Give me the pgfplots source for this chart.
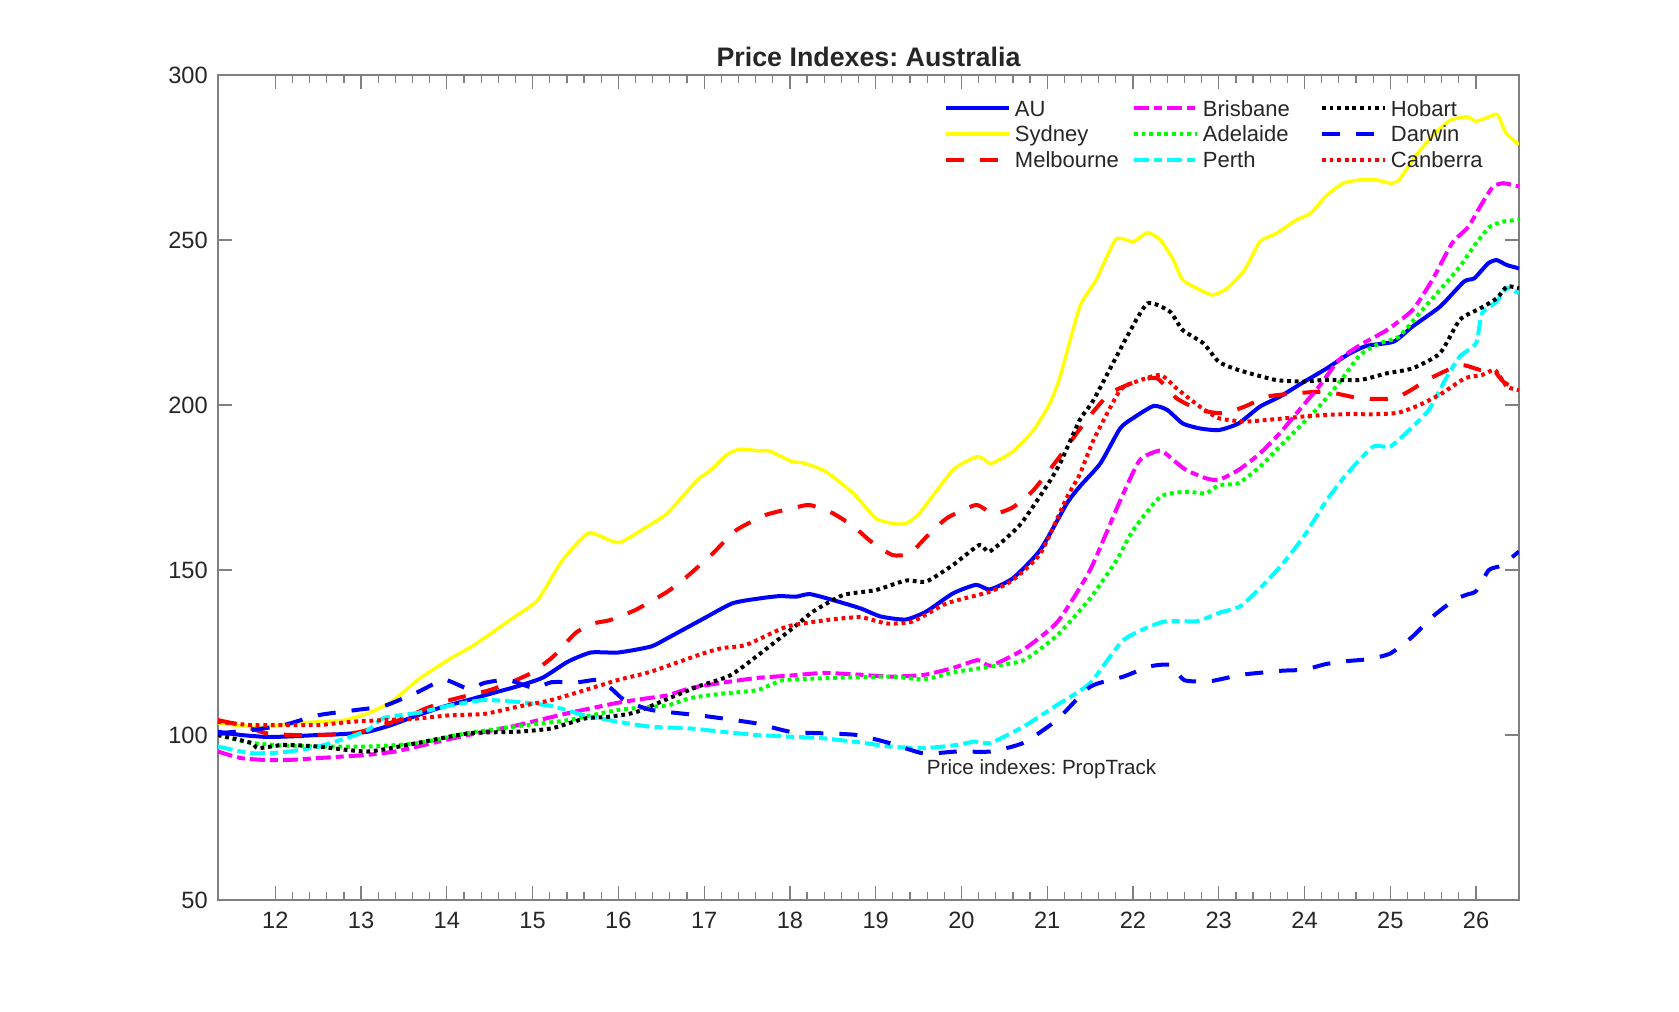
\documentclass[border=0pt]{standalone}
\usepackage{pgfplots}
\pgfplotsset{compat=1.18}
\usepackage{fontspec}
\setmainfont{Liberation Sans}
\frenchspacing
\definecolor{axgray}{HTML}{808080}
\definecolor{txtgray}{HTML}{262626}
\definecolor{cBlue}{rgb}{0,0,1}
\definecolor{cYellow}{rgb}{1,1,0}
\definecolor{cRed}{rgb}{1,0,0}
\definecolor{cMag}{rgb}{1,0,1}
\definecolor{cGreen}{rgb}{0,1,0}
\definecolor{cCyan}{rgb}{0,1,1}
\definecolor{cBlack}{rgb}{0,0,0}
\newcommand{\lgd}[1]{\makebox[60.65pt][l]{\hspace*{2.15pt}#1}}
\begin{document}
\begin{tikzpicture}
\path (0,0) rectangle (839.5pt,505.5pt);
\begin{axis}[
  scale only axis, width=650.5pt, height=412.5pt,
  at={(109pt,55.5pt)}, anchor=south west,
  xmin=11.332, xmax=26.501, ymin=50, ymax=300,
  xtick={12,13,...,26}, ytick={50,100,...,300},
  minor x tick num=4,
  tick align=inside,
  major tick length=7pt, minor tick length=4pt,
  axis line style={draw=axgray, line width=0.6pt},
  tick style={draw=axgray, line width=0.6pt},
  /pgf/number format/assume math mode=true,
  tick label style={font=\fontsize{11.8}{14}\selectfont, text=txtgray},
  yticklabel style={xshift=-1.6pt},
  xticklabel style={yshift=-2.5pt},
  title={Price Indexes: Australia},
  every axis title/.style={font=\bfseries\fontsize{13.4}{16}\selectfont, text=txtgray, at={(0.5,1)}, anchor=base, yshift=4.2pt, inner sep=0pt},
  legend style={at={(0.5580,0.9730)}, anchor=north west, draw=none, fill=none, inner sep=0pt, outer sep=0pt, row sep=1.9pt, column sep=0pt, font=\fontsize{11}{13}\selectfont, text=txtgray, nodes={inner sep=0pt, text height=9.4pt, text depth=1.6pt}, cells={anchor=center}},
  legend columns=3, transpose legend,
  legend image code/.code={\draw[#1] (0pt,0pt) -- (31.35pt,0pt);},
  every axis plot/.append style={smooth, tension=0.35, line cap=butt, line join=round},
]
% AU
\addplot[cBlue, line width=2pt] coordinates {
(11.33,101)(11.6,100)(11.91,99.4)(12.2,99.6)(12.5,100)(12.8,100.3)(13.08,101)(13.35,103)(13.66,106)(13.95,108.5)(14.25,110.6)(14.55,112.8)(14.83,114.8)(15.12,117.4)(15.41,122.2)(15.68,125)(16.0,125)(16.38,126.8)(16.57,129.3)(16.96,134.8)(17.33,139.9)(17.65,141.4)(17.88,142.1)(18.07,141.9)(18.23,142.7)(18.5,140.9)(18.82,138.4)(19.06,135.9)(19.35,135)(19.59,137.4)(19.9,142.9)(20.17,145.5)(20.33,144.1)(20.6,147.5)(20.92,156.1)(21.23,170.2)(21.38,175.3)(21.62,182.3)(21.85,192.9)(22.0,196)(22.24,199.7)(22.4,198.5)(22.58,194.4)(22.78,192.9)(23.0,192.4)(23.23,194.4)(23.48,199.5)(23.71,202.5)(24.0,207.1)(24.26,211.1)(24.5,215.2)(24.72,217.9)(25.04,219.2)(25.26,223.8)(25.58,229.8)(25.86,237.4)(25.98,238.4)(26.14,242.9)(26.24,243.9)(26.36,242.4)(26.5,241.4)};
\addlegendentry{\lgd{AU}}
% Sydney
\addplot[cYellow, line width=1.7pt] coordinates {
(11.33,103.7)(11.6,102.8)(11.9,102.5)(12.2,103.5)(12.5,104)(12.8,104.5)(13.08,106.6)(13.35,110)(13.66,116.7)(13.85,120)(14.05,123.3)(14.3,127)(14.52,130.9)(14.8,136)(15.06,140.9)(15.32,152)(15.48,157)(15.67,161.3)(16.0,158.3)(16.3,162.6)(16.57,167.2)(16.92,177.3)(17.08,180.3)(17.26,184.9)(17.42,186.6)(17.65,186.1)(17.76,186.1)(18.03,182.8)(18.15,182.5)(18.42,179.8)(18.74,173.2)(19.0,165.7)(19.2,164.1)(19.35,164.1)(19.51,167.2)(19.9,180.3)(20.17,184.3)(20.25,183.8)(20.35,182.3)(20.6,185.9)(20.84,192.4)(21.03,200.5)(21.15,208.6)(21.38,229.8)(21.57,237.9)(21.8,250.2)(22.0,249.5)(22.17,252.2)(22.32,250)(22.47,244)(22.58,237.9)(22.78,234.9)(22.93,233.3)(23.1,235.4)(23.3,240.9)(23.48,249.5)(23.67,252)(23.9,256)(24.07,258.1)(24.26,263.6)(24.45,267.2)(24.65,268.2)(24.84,268.2)(25.0,267.2)(25.1,268.2)(25.3,275.6)(25.5,281.8)(25.7,286.3)(25.9,287.3)(26.0,286)(26.15,287.3)(26.25,288)(26.35,282.4)(26.5,278.9)};
\addlegendentry{\lgd{Sydney}}
% Melbourne
\addplot[cRed, line width=2pt, dash pattern=on 9pt off 8pt] coordinates {
(11.33,104.5)(11.6,103)(11.9,100.5)(12.2,100)(12.5,100)(12.8,100.3)(13.0,101)(13.25,103)(13.5,105)(13.75,108)(14.0,110.3)(14.25,112)(14.5,113.6)(14.75,116)(15.0,119)(15.25,124)(15.5,130.9)(15.71,133.8)(15.9,134.8)(16.2,137.9)(16.57,143.4)(16.8,148)(17.1,155)(17.37,162)(17.72,166.7)(18.03,168.7)(18.23,169.7)(18.5,167.2)(18.74,163.2)(18.97,158.1)(19.2,154.5)(19.4,155)(19.59,160)(19.83,165.7)(20.17,169.7)(20.37,167)(20.6,169)(20.84,174.2)(21.15,184.5)(21.46,195.5)(21.73,203.5)(22.04,207.1)(22.28,208.1)(22.51,202)(22.78,198.5)(23.05,197.5)(23.3,199.5)(23.56,202.5)(23.87,203.5)(24.26,204)(24.65,202)(25.04,202)(25.24,204.5)(25.43,207.6)(25.81,212.1)(26.05,210.6)(26.2,210.6)(26.32,207)(26.5,204.5)};
\addlegendentry{\lgd{Melbourne}}
% Brisbane
\addplot[cMag, line width=2pt, dash pattern=on 7.5pt off 2.5pt on 4pt off 2.5pt] coordinates {
(11.33,95)(11.6,93)(11.91,92.4)(12.2,92.5)(12.5,93)(12.8,93.5)(13.08,94)(13.4,95)(13.66,96.5)(13.95,98.3)(14.25,100)(14.55,101.5)(14.83,103)(15.12,104.8)(15.41,106.6)(15.7,108.2)(16.0,109.8)(16.3,111)(16.57,112)(16.84,114.2)(17.2,115.8)(17.62,117.3)(18.0,118)(18.39,118.8)(18.8,118.3)(19.17,117.7)(19.56,118.2)(19.9,120.3)(20.19,122.7)(20.34,121)(20.73,126)(21.12,134.3)(21.5,150)(21.85,171)(22.08,183.3)(22.32,186.2)(22.47,183.3)(22.62,180.3)(22.85,177.8)(23.0,177.3)(23.23,180.3)(23.48,185.3)(23.71,191.4)(23.94,198.5)(24.17,205.6)(24.4,213.6)(24.65,218.2)(24.96,222.7)(25.26,228.8)(25.49,237.9)(25.72,249)(25.91,254)(26.07,261.1)(26.2,266.2)(26.32,267.2)(26.5,266.2)};
\addlegendentry{\lgd{Brisbane}}
% Adelaide
\addplot[cGreen, line width=2pt, dash pattern=on 1.9pt off 1.9pt] coordinates {
(11.33,100)(11.72,97.6)(12.1,96.8)(12.5,96.5)(13.08,96.5)(13.66,97.5)(14.25,100.6)(14.83,102.7)(15.41,104.5)(16.0,107.6)(16.57,109)(16.84,111.2)(17.2,112.5)(17.62,113.6)(17.9,116.5)(18.2,117)(18.5,117.3)(19.17,117.7)(19.56,116.9)(19.95,119.2)(20.34,120.7)(20.73,122.7)(21.12,130.3)(21.5,141.4)(21.81,153)(22.0,162)(22.32,172.2)(22.62,173.7)(22.85,173.2)(23.0,175.7)(23.23,176.3)(23.48,181.3)(23.71,187.4)(23.94,193.4)(24.17,199.5)(24.4,206.6)(24.65,215.2)(24.88,218.7)(25.1,220.7)(25.34,227.8)(25.58,234.9)(25.81,241.9)(26.0,249)(26.16,254)(26.32,255.6)(26.5,256.1)};
\addlegendentry{\lgd{Adelaide}}
% Perth
\addplot[cCyan, line width=2pt, dash pattern=on 7.5pt off 2.5pt on 4pt off 2.5pt] coordinates {
(11.33,96.5)(11.72,94.5)(12.1,94.8)(12.5,96.5)(12.88,99.5)(13.08,101.5)(13.27,105.2)(13.66,106.7)(14.05,109)(14.44,110.6)(14.83,110)(15.22,108.8)(15.6,106)(16.0,104)(16.38,102.5)(16.84,102)(17.2,101)(17.61,100)(18.0,99.5)(18.39,99)(18.8,97.8)(19.17,96.5)(19.56,96)(19.95,97)(20.15,98)(20.34,97.6)(20.72,102.5)(21.11,109)(21.5,115.7)(21.89,128.8)(22.35,134.3)(22.75,134.5)(23.0,137)(23.25,139)(23.5,145)(23.75,152)(24.0,160.5)(24.26,171.2)(24.5,179.3)(24.8,187.4)(25.0,187.4)(25.26,193.4)(25.45,198.5)(25.64,207.6)(25.81,214.7)(26.0,218.7)(26.07,227.8)(26.24,231.3)(26.36,235.4)(26.5,233.8)};
\addlegendentry{\lgd{Perth}}
% Hobart
\addplot[cBlack, line width=2pt, dash pattern=on 1.9pt off 1.9pt] coordinates {
(11.33,100)(11.72,97.6)(11.8,96)(12.1,97)(12.5,96.5)(13.08,95)(13.66,97.6)(14.25,100.5)(14.83,101)(15.22,102)(15.61,105)(15.88,105.5)(16.19,106.8)(16.58,111)(16.93,114.7)(17.3,118)(17.62,124)(18.03,132.3)(18.27,137.4)(18.62,142.4)(19.0,143.9)(19.35,146.8)(19.59,146.5)(19.9,151.5)(20.21,157.6)(20.33,155.6)(20.68,163.6)(20.99,175.3)(21.15,182.3)(21.38,195.5)(21.54,201.5)(21.93,220.7)(22.17,230.8)(22.43,228.3)(22.58,222.7)(22.82,218.7)(23.0,213.1)(23.23,210.6)(23.66,207.6)(23.97,207.1)(24.24,207.6)(24.65,207.6)(24.96,209.6)(25.26,211.1)(25.58,215.7)(25.81,225.8)(26.05,229.3)(26.24,232.3)(26.36,235.9)(26.5,235.4)};
\addlegendentry{\lgd{Hobart}}
% Darwin
\addplot[cBlue, line width=2pt, dash pattern=on 9pt off 8pt] coordinates {
(11.33,100.5)(11.72,101.5)(12.1,103)(12.5,106)(12.95,107.6)(13.27,108.8)(13.66,113)(13.97,116.7)(14.25,114)(14.44,115.8)(14.71,116.7)(15.02,114.2)(15.22,116)(15.53,116)(15.76,116.7)(15.92,114)(16.07,110.6)(16.38,107.6)(16.93,106)(17.22,105)(17.61,103.5)(18.0,101)(18.39,100.5)(18.78,100)(19.17,97.5)(19.56,94.4)(19.95,95)(20.34,95)(20.72,97.6)(21.11,104.5)(21.5,114.6)(21.89,117.7)(22.2,120.8)(22.44,121.2)(22.6,116.6)(22.9,116.3)(23.25,118.2)(23.5,118.9)(23.75,119.5)(24.0,119.8)(24.25,121.5)(24.5,122.4)(24.75,123)(25.0,124.7)(25.25,129.6)(25.5,136)(25.75,141)(25.9,142.6)(26.0,143.6)(26.15,150)(26.3,151.4)(26.5,155.6)};
\addlegendentry{\lgd{Darwin}}
% Canberra
\addplot[cRed, line width=2pt, dash pattern=on 1.9pt off 1.9pt] coordinates {
(11.33,104)(11.72,103)(12.1,103)(12.5,103)(12.88,104)(13.27,104.5)(13.66,105)(14.05,106)(14.44,106.4)(14.83,108.6)(15.22,110.6)(15.61,113.6)(16.0,116.7)(16.38,119.2)(16.93,124.2)(17.2,126.3)(17.49,127.3)(17.96,132.8)(18.42,134.8)(18.82,135.7)(19.13,133.8)(19.43,134.4)(19.83,139.9)(20.33,143.4)(20.6,147)(20.92,155)(21.23,172)(21.38,179)(21.54,189.4)(21.85,204.5)(22.04,207.1)(22.32,209.1)(22.51,205)(22.78,199.5)(23.0,196)(23.3,195)(23.66,195.7)(24.07,196.7)(24.45,197.2)(24.84,197.2)(25.1,197.7)(25.34,200)(25.6,203.5)(25.87,208.1)(26.07,209.1)(26.22,210.6)(26.36,205.6)(26.5,204.5)};
\addlegendentry{\lgd{Canberra}}
\node[anchor=base west, inner sep=0pt, font=\fontsize{10.3}{12}\selectfont, text=txtgray] at (axis cs:19.593,87.9) {Price indexes: PropTrack};
\end{axis}
\end{tikzpicture}
\end{document}
